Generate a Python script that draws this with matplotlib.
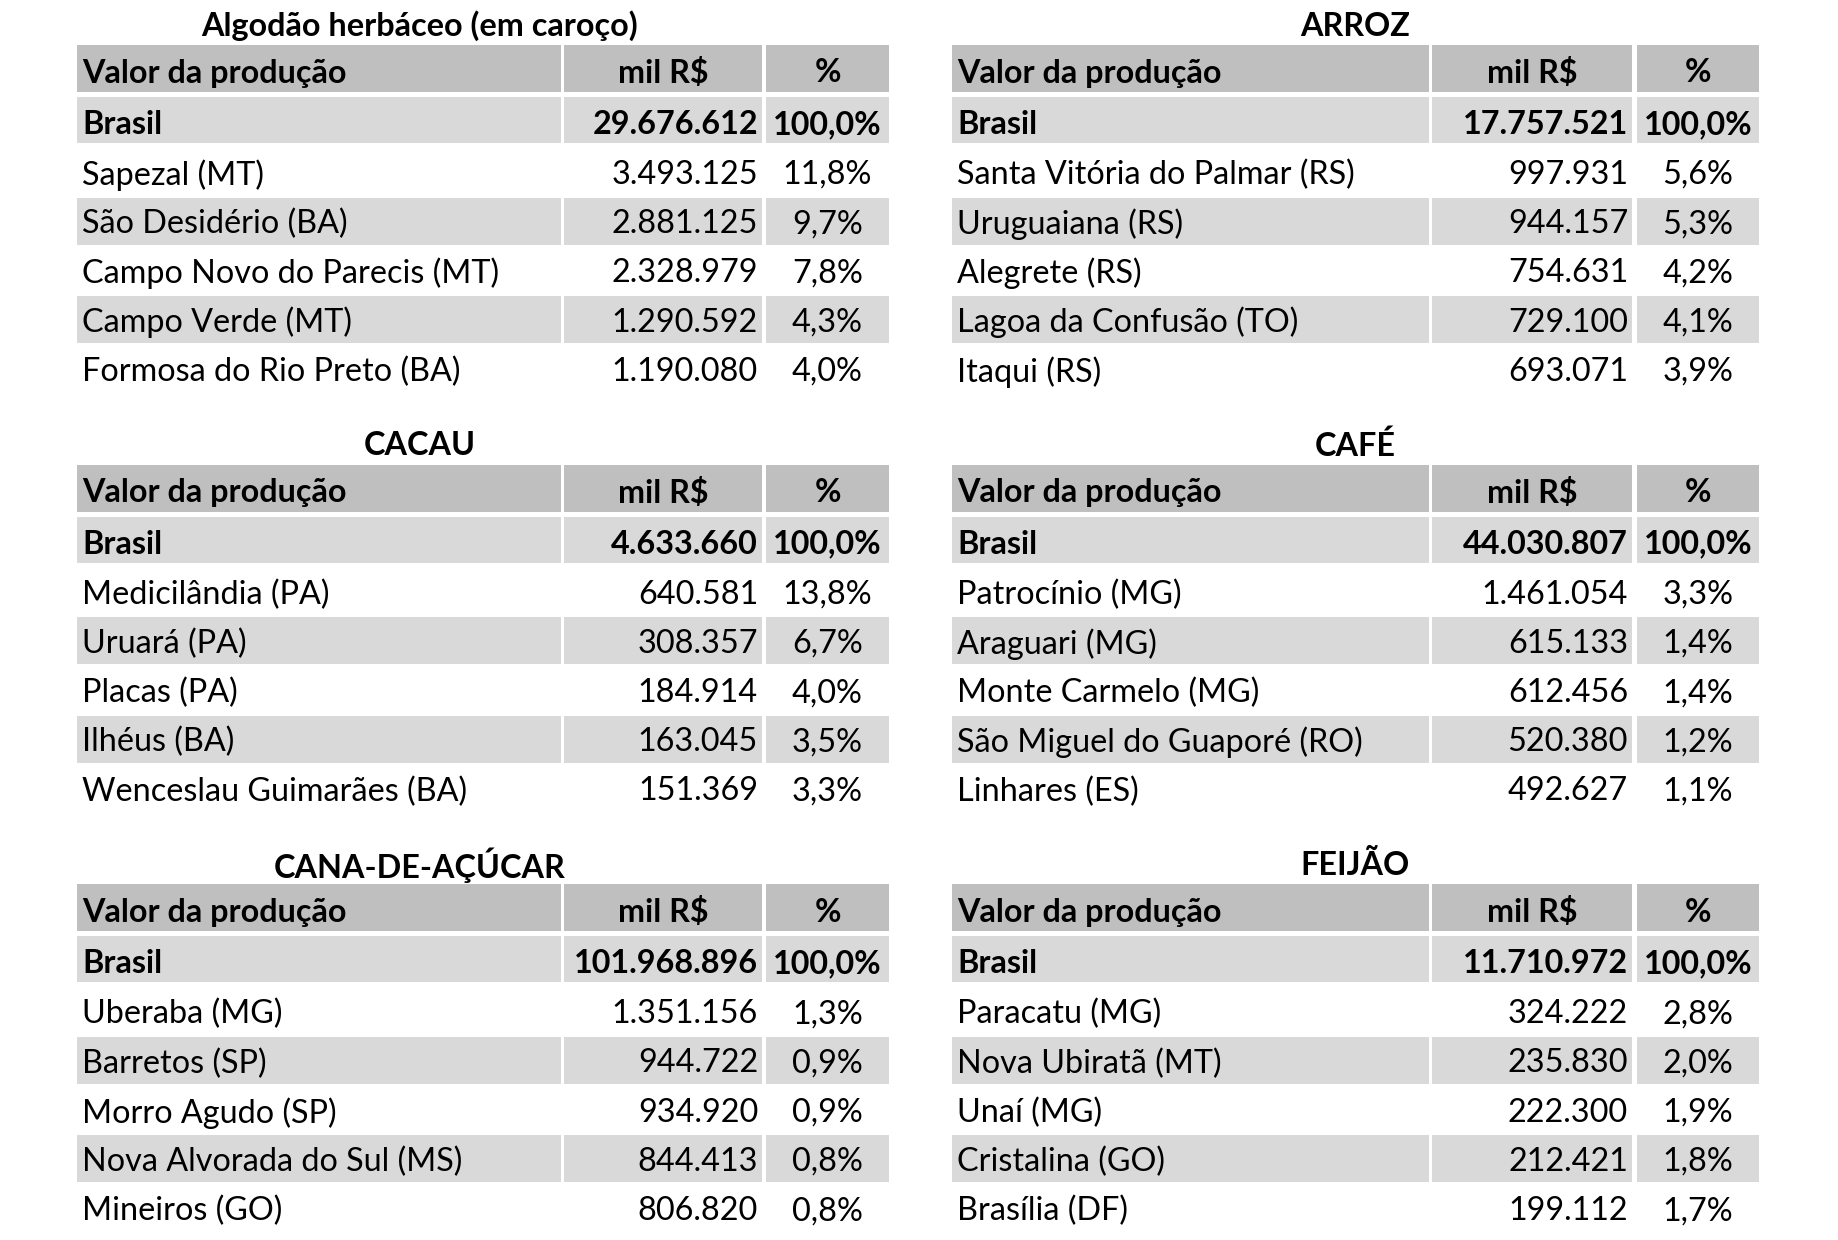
import matplotlib.pyplot as plt
from matplotlib.patches import Rectangle

plt.rcParams['font.family'] = ['Lato', 'DejaVu Sans']

# Data for each crop table
titles = ["Algodão herbáceo (em caroço)", "ARROZ", "CACAU", "CAFÉ", "CANA-DE-AÇÚCAR", "FEIJÃO"]
brasil_totals = ["29.676.612", "17.757.521", "4.633.660", "44.030.807", "101.968.896", "11.710.972"]

algodao_cities = ["Sapezal (MT)", "São Desidério (BA)", "Campo Novo do Parecis (MT)",
                  "Campo Verde (MT)", "Formosa do Rio Preto (BA)"]
algodao_values = ["3.493.125", "2.881.125", "2.328.979", "1.290.592", "1.190.080"]
algodao_pct = ["11,8%", "9,7%", "7,8%", "4,3%", "4,0%"]

arroz_cities = ["Santa Vitória do Palmar (RS)", "Uruguaiana (RS)", "Alegrete (RS)",
                "Lagoa da Confusão (TO)", "Itaqui (RS)"]
arroz_values = ["997.931", "944.157", "754.631", "729.100", "693.071"]
arroz_pct = ["5,6%", "5,3%", "4,2%", "4,1%", "3,9%"]

cacau_cities = ["Medicilândia (PA)", "Uruará (PA)", "Placas (PA)", "Ilhéus (BA)",
                "Wenceslau Guimarães (BA)"]
cacau_values = ["640.581", "308.357", "184.914", "163.045", "151.369"]
cacau_pct = ["13,8%", "6,7%", "4,0%", "3,5%", "3,3%"]

cafe_cities = ["Patrocínio (MG)", "Araguari (MG)", "Monte Carmelo (MG)",
               "São Miguel do Guaporé (RO)", "Linhares (ES)"]
cafe_values = ["1.461.054", "615.133", "612.456", "520.380", "492.627"]
cafe_pct = ["3,3%", "1,4%", "1,4%", "1,2%", "1,1%"]

cana_cities = ["Uberaba (MG)", "Barretos (SP)", "Morro Agudo (SP)",
               "Nova Alvorada do Sul (MS)", "Mineiros (GO)"]
cana_values = ["1.351.156", "944.722", "934.920", "844.413", "806.820"]
cana_pct = ["1,3%", "0,9%", "0,9%", "0,8%", "0,8%"]

feijao_cities = ["Paracatu (MG)", "Nova Ubiratã (MT)", "Unaí (MG)", "Cristalina (GO)",
                 "Brasília (DF)"]
feijao_values = ["324.222", "235.830", "222.300", "212.421", "199.112"]
feijao_pct = ["2,8%", "2,0%", "1,9%", "1,8%", "1,7%"]

cities = [algodao_cities, arroz_cities, cacau_cities, cafe_cities, cana_cities, feijao_cities]
values = [algodao_values, arroz_values, cacau_values, cafe_values, cana_values, feijao_values]
pcts = [algodao_pct, arroz_pct, cacau_pct, cafe_pct, cana_pct, feijao_pct]

W, H = 1838, 1240
fig = plt.figure(figsize=(W / 100, H / 100), dpi=100)
ax = fig.add_axes([0, 0, 1, 1])
ax.set_xlim(0, W)
ax.set_ylim(H, 0)
ax.axis('off')

HEADER_GRAY = '#bfbfbf'
LIGHT_GRAY = '#d9d9d9'
FS = 23.3

# column edges (pixels) for left / right tables
col_edges = [
    [(77, 561), (564, 762), (766, 889)],
    [(952, 1429), (1432, 1632), (1637, 1759)],
]
title_x = [420, 1355]
section_y = [0, 419.7, 839.3]


def draw_table(idx):
    side = idx % 2
    oy = section_y[idx // 2]
    cols = col_edges[side]

    ax.text(title_x[side], oy + 26, titles[idx], ha='center', va='center',
            fontsize=FS, fontweight='bold')

    def band(y0, y1, color):
        for x0, x1 in cols:
            ax.add_patch(Rectangle((x0, oy + y0), x1 - x0, y1 - y0, color=color, lw=0))

    # header row
    band(45, 92, HEADER_GRAY)
    yc = oy + 73
    ax.text(cols[0][0] + 5, yc, "Valor da produção", ha='left', va='center',
            fontsize=FS, fontweight='bold')
    ax.text((cols[1][0] + cols[1][1]) / 2, yc, "mil R$", ha='center', va='center',
            fontsize=FS, fontweight='bold')
    ax.text((cols[2][0] + cols[2][1]) / 2, yc, "%", ha='center', va='center',
            fontsize=FS, fontweight='bold')

    # Brasil row
    band(97, 143, LIGHT_GRAY)
    yc = oy + 124.5
    ax.text(cols[0][0] + 5, yc, "Brasil", ha='left', va='center', fontsize=FS, fontweight='bold')
    ax.text(cols[1][1] - 4, yc, brasil_totals[idx], ha='right', va='center',
            fontsize=FS, fontweight='bold')
    ax.text((cols[2][0] + cols[2][1]) / 2, yc, "100,0%", ha='center', va='center',
            fontsize=FS, fontweight='bold')

    # city rows
    for i, (c, v, p) in enumerate(zip(cities[idx], values[idx], pcts[idx])):
        yc = 172 + 49.2 * i
        if i % 2 == 1:
            band(yc - 23.5, yc + 23.5, LIGHT_GRAY)
        ty = oy + yc + 3
        ax.text(cols[0][0] + 5, ty, c, ha='left', va='center', fontsize=FS)
        ax.text(cols[1][1] - 4, ty, v, ha='right', va='center', fontsize=FS)
        ax.text((cols[2][0] + cols[2][1]) / 2, ty, p, ha='center', va='center', fontsize=FS)


for k in range(6):
    draw_table(k)

fig.savefig('out.png', dpi=100, facecolor='white')
